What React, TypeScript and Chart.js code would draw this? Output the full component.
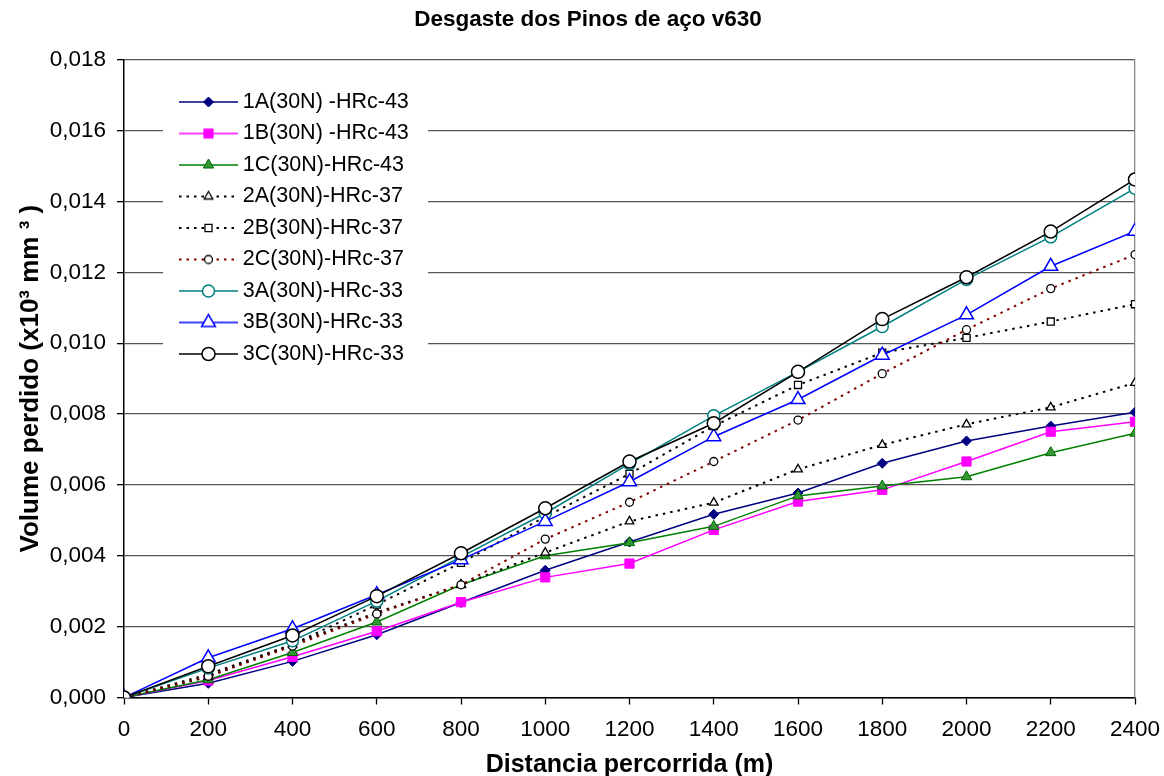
import React, { useEffect, useRef } from 'react';
import { Chart, registerables } from 'chart.js';
import { drawPoint } from 'chart.js/helpers';

Chart.register(...registerables);

const FONT = "'Liberation Sans', Arial, Helvetica, sans-serif";

const chartTitle = 'Desgaste dos Pinos de aço v630';
const xTitle = 'Distancia percorrida (m)';
const yTitle = 'Volume perdido (x10³ mm ³ )';

const distances = [0, 200, 400, 600, 800, 1000, 1200, 1400, 1600, 1800, 2000, 2200, 2400];
const yTickValues = [0, 0.002, 0.004, 0.006, 0.008, 0.01, 0.012, 0.014, 0.016, 0.018];

const seriesLabels = [
  '1A(30N) -HRc-43',
  '1B(30N) -HRc-43',
  '1C(30N)-HRc-43',
  '2A(30N)-HRc-37',
  '2B(30N)-HRc-37',
  '2C(30N)-HRc-37',
  '3A(30N)-HRc-33',
  '3B(30N)-HRc-33',
  '3C(30N)-HRc-33',
];

const s1A = [0, 0.0004, 0.00102, 0.00177, 0.00268, 0.00359, 0.00439, 0.00517, 0.00577, 0.00661, 0.00724, 0.00766, 0.00805];
const s1B = [0, 0.00048, 0.00115, 0.00187, 0.00269, 0.00339, 0.00378, 0.00473, 0.00553, 0.00586, 0.00666, 0.0075, 0.00778];
const s1C = [0, 0.0005, 0.00127, 0.00213, 0.00318, 0.004, 0.00437, 0.00483, 0.00569, 0.00597, 0.00623, 0.00691, 0.00746];
const s2A = [0, 0.00058, 0.0015, 0.0024, 0.00318, 0.00409, 0.00497, 0.0055, 0.00644, 0.00713, 0.00771, 0.00819, 0.00888];
const s2B = [0, 0.00065, 0.0015, 0.00262, 0.0038, 0.0051, 0.00631, 0.00766, 0.00882, 0.00973, 0.01015, 0.01061, 0.0111];
const s2C = [0, 0.0006, 0.00145, 0.00236, 0.00318, 0.00447, 0.00551, 0.00666, 0.00783, 0.00914, 0.01038, 0.01154, 0.0125];
const s3A = [0, 0.00083, 0.0016, 0.00272, 0.00397, 0.0052, 0.0066, 0.00795, 0.00919, 0.01047, 0.0118, 0.013, 0.01437];
const s3B = [0, 0.00112, 0.00194, 0.0029, 0.00389, 0.00497, 0.00609, 0.00736, 0.00841, 0.00966, 0.0108, 0.01217, 0.01316];
const s3C = [0, 0.00088, 0.00175, 0.00286, 0.00407, 0.00534, 0.00666, 0.00774, 0.00919, 0.01068, 0.01186, 0.01315, 0.01462];

const seriesValues = [s1A, s1B, s1C, s2A, s2B, s2C, s3A, s3B, s3C];

const DOT = [2.5, 5];
const seriesStyles = [
  { line: '#000080', dash: [], lw: 1.5, ps: 'rectRot', r: 5, bg: '#000080', bc: '#000080', bw: 1 },
  { line: '#FF00FF', dash: [], lw: 1.5, ps: 'rect', r: 6.5, bg: '#FF00FF', bc: '#FF00FF', bw: 1 },
  { line: '#008000', dash: [], lw: 1.5, ps: 'triangle', r: 6, bg: '#339933', bc: '#006400', bw: 1 },
  { line: '#000000', dash: DOT, lw: 2, ps: 'triangle', r: 5, bg: '#FFFFFF', bc: '#000000', bw: 1.3 },
  { line: '#000000', dash: DOT, lw: 2, ps: 'rect', r: 5, bg: '#FFFFFF', bc: '#000000', bw: 1.3 },
  { line: '#800000', dash: DOT, lw: 2, ps: 'circle', r: 4, bg: '#FFFFFF', bc: '#000000', bw: 1.3 },
  { line: '#008080', dash: [], lw: 1.5, ps: 'circle', r: 6, bg: '#FFFFFF', bc: '#008080', bw: 1.5 },
  { line: '#0000FF', dash: [], lw: 1.5, ps: 'triangle', r: 8, bg: '#FFFFFF', bc: '#0000FF', bw: 1.5 },
  { line: '#000000', dash: [], lw: 1.5, ps: 'circle', r: 6.5, bg: '#FFFFFF', bc: '#000000', bw: 1.5 },
];

function makeSample(st: any): HTMLCanvasElement {
  const c = document.createElement('canvas');
  c.width = 72;
  c.height = 24;
  const ctx = c.getContext('2d') as CanvasRenderingContext2D;
  ctx.strokeStyle = st.line;
  ctx.lineWidth = st.lw;
  ctx.setLineDash(st.dash);
  ctx.beginPath();
  ctx.moveTo(13, 12);
  ctx.lineTo(72, 12);
  ctx.stroke();
  ctx.setLineDash([]);
  ctx.fillStyle = st.bg;
  ctx.strokeStyle = st.bc;
  ctx.lineWidth = st.bw;
  drawPoint(ctx, { pointStyle: st.ps, radius: st.r, rotation: 0, borderWidth: st.bw } as any, 42.5, 12);
  return c;
}

const legendPlacer = {
  id: 'legendPlacer',
  afterLayout(chart: any) {
    const lg = chart.legend;
    if (!lg) return;
    const ca = chart.chartArea;
    const L = ca.left + 38;
    const T = ca.top + 21.5;
    lg.left = L;
    lg.top = T;
    lg.right = L + lg.width;
    lg.bottom = T + lg.height;
  },
  beforeDatasetsDraw(chart: any) {
    const lg = chart.legend;
    if (!lg) return;
    const ctx = chart.ctx;
    ctx.save();
    ctx.fillStyle = '#FFFFFF';
    ctx.fillRect(lg.left + 1, lg.top + 2, 265, 287);
    ctx.restore();
    lg.draw();
  },
};

export default function App() {
  const ref = useRef<HTMLCanvasElement>(null);

  useEffect(() => {
    if (!ref.current) return;
    Chart.defaults.font.family = FONT;
    Chart.defaults.color = '#000';
    const samples = seriesStyles.map(makeSample);
    const n = seriesLabels.length;
    const datasets = seriesLabels.map((label, i) => {
      const st = seriesStyles[i];
      return {
        label,
        data: distances.map((x, j) => ({ x, y: seriesValues[i][j] })),
        borderColor: st.line,
        borderWidth: st.lw,
        borderDash: st.dash,
        pointStyle: st.ps,
        pointRadius: st.r,
        pointHoverRadius: st.r,
        pointBackgroundColor: st.bg,
        pointBorderColor: st.bc,
        pointBorderWidth: st.bw,
        backgroundColor: st.bg,
        tension: 0,
        fill: false,
        order: n - i,
        xAxisID: 'x',
        yAxisID: 'y',
      };
    });

    const chart = new Chart(ref.current, {
      type: 'line',
      data: { datasets: datasets as any },
      plugins: [legendPlacer],
      options: {
        responsive: false,
        animation: false,
        events: [],
        layout: { padding: { left: 12, right: 0, top: 0, bottom: 0 } },
        scales: {
          x: {
            type: 'linear',
            position: 'bottom',
            min: 0,
            max: 2400,
            afterBuildTicks: (s: any) => {
              s.ticks = distances.map((v) => ({ value: v }));
            },
            afterFit: (s: any) => {
              s.height = 78.5;
              s.paddingRight = Math.min(s.paddingRight, 25);
            },
            ticks: {
              callback: (v: any) => String(v),
              font: { size: 22.5, family: FONT },
              color: '#000',
              padding: 12,
              maxRotation: 0,
              autoSkip: false,
            },
            grid: {
              drawOnChartArea: false,
              drawTicks: true,
              tickLength: 7,
              tickColor: '#000',
              tickWidth: 1.3,
              color: '#000',
            },
            border: { color: '#000', width: 1.5 },
            title: {
              display: true,
              text: xTitle,
              color: '#000',
              font: { size: 25, weight: 'bold', family: FONT, lineHeight: 0.88 },
              padding: 0,
            },
          },
          y: {
            type: 'linear',
            position: 'left',
            min: 0,
            max: 0.018,
            afterBuildTicks: (s: any) => {
              s.ticks = yTickValues.map((v) => ({ value: v }));
            },
            afterFit: (s: any) => {
              s.width = 112;
            },
            ticks: {
              callback: (v: any) => Number(v).toFixed(3).replace('.', ','),
              font: { size: 22.5, family: FONT },
              color: '#000',
              padding: 11,
            },
            grid: {
              color: '#555',
              lineWidth: 1.3,
              drawTicks: true,
              tickLength: 7,
              tickColor: '#000',
              tickWidth: 1.3,
            },
            border: { color: '#000', width: 1.5 },
            title: {
              display: true,
              text: yTitle,
              color: '#000',
              font: { size: 26, weight: 'bold', family: FONT },
              padding: { top: 3.5, bottom: 0 },
            },
          },
          yR: {
            type: 'linear',
            position: 'right',
            display: true,
            min: 0,
            max: 1,
            afterFit: (s: any) => {
              s.width = 29;
            },
            grid: { display: false, drawTicks: false },
            ticks: { display: false },
            border: { display: true, color: '#888', width: 1.3 },
          },
        },
        plugins: {
          tooltip: { enabled: false },
          title: {
            display: true,
            text: chartTitle,
            color: '#000',
            fullSize: true,
            font: { size: 22.5, weight: 'bold', family: FONT },
            padding: { top: 6, bottom: 26.7 },
          },
          legend: {
            display: true,
            position: 'chartArea' as any,
            align: 'start',
            labels: {
              usePointStyle: true,
              pointStyleWidth: 60,
              boxHeight: 21.5,
              padding: 10,
              color: '#000',
              font: { size: 21.5, family: FONT },
              generateLabels: (ch: any) => {
                const items = (Chart.defaults.plugins.legend.labels as any).generateLabels(ch);
                items.sort((a: any, b: any) => a.datasetIndex - b.datasetIndex);
                return items.map((it: any) => ({ ...it, pointStyle: samples[it.datasetIndex] }));
              },
            },
          },
        },
      } as any,
    });
    return () => chart.destroy();
  }, []);

  return (
    <div style={{ position: 'fixed', left: 0, top: 0, width: 1164, height: 776, background: '#fff' }}>
      <canvas ref={ref} width={1164} height={776} style={{ display: 'block' }} />
    </div>
  );
}
